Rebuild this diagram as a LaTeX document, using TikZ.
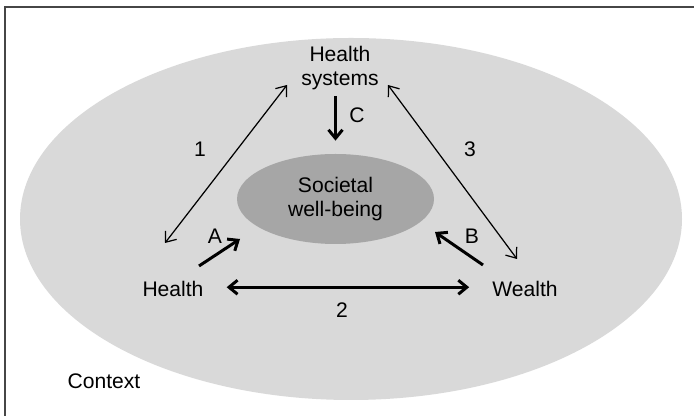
\documentclass[tikz,border=0pt]{standalone}
\usepackage{fontspec}
\setmainfont{Liberation Sans}
\usetikzlibrary{arrows.meta, shapes.geometric}
\definecolor{contextgray}{RGB}{217,217,217}
\definecolor{wellgray}{RGB}{166,166,166}
\definecolor{framegray}{RGB}{70,70,70}

\begin{document}
\begin{tikzpicture}[
        txt/.style={font=\fontsize{12}{13.5}\selectfont, align=center},
        thinlink/.style={{Straight Barb[length=1.8mm,width=2.8mm]}-{Straight Barb[length=1.8mm,width=2.8mm]}, line width=0.7pt},
        thicklink/.style={-{Straight Barb[length=1.7mm,width=2.8mm]}, line width=1.7pt}
    ]
        \useasboundingbox (0, 0) rectangle (13.88, 8.32);

        \begin{scope}
            % Frame and context
            \draw[framegray, line width=1.1pt] (0.1, 0) -- (0.1, 8.18) -- (13.88, 8.18);
            \fill[contextgray] (7.02, 3.94) ellipse (6.62 and 3.62);
            \node[txt] (context) at (2.08, 0.7) {Context};
        \end{scope}

        \begin{scope}
            % Create Nodes
            \node[txt] (systems) at (6.8, 6.96) {Health\\systems};
            \node[txt, fill=wellgray, ellipse, minimum width=3.94cm, minimum height=1.8cm, inner sep=0pt] (wellbeing) at (6.71, 4.34) {Societal\\well-being};
            \node[txt] (health) at (3.46, 2.54) {Health};
            \node[txt] (wealth) at (10.5, 2.54) {Wealth};

            % Arrow ends
            \coordinate (h1) at (3.3, 3.46);
            \coordinate (s1) at (5.74, 6.62);
            \coordinate (s3) at (7.76, 6.62);
            \coordinate (w3) at (10.34, 3.14);
            \coordinate (ha) at (3.98, 3.0);
            \coordinate (wa) at (4.8, 3.54);
            \coordinate (wb) at (9.66, 3.02);
            \coordinate (bb) at (8.7, 3.68);

            % Connect Nodes
            \draw[thinlink] (h1) -- (s1);
            \draw[thinlink] (s3) -- (w3);
            \draw[thicklink] (systems.south -| wellbeing.north) -- ([yshift=0.26cm]wellbeing.north);
            \draw[thicklink] (ha) -- (wa);
            \draw[thicklink] (wb) -- (bb);
            \draw[thicklink, <->, >={Straight Barb[length=1.7mm,width=2.8mm]}, shorten <=0.34cm, shorten >=0.34cm] ([yshift=1pt]health.east) -- ([yshift=1pt]wealth.west);

            % Labels
            \node[txt] (n1) at (4.0, 5.34) {1};
            \node[txt] (n2) at (6.84, 2.12) {2};
            \node[txt] (n3) at (9.4, 5.34) {3};
            \node[txt] (la) at (4.3, 3.6) {A};
            \node[txt] (lb) at (9.44, 3.6) {B};
            \node[txt] (lc) at (7.14, 6.02) {C};
        \end{scope}
    \end{tikzpicture}
\end{document}
